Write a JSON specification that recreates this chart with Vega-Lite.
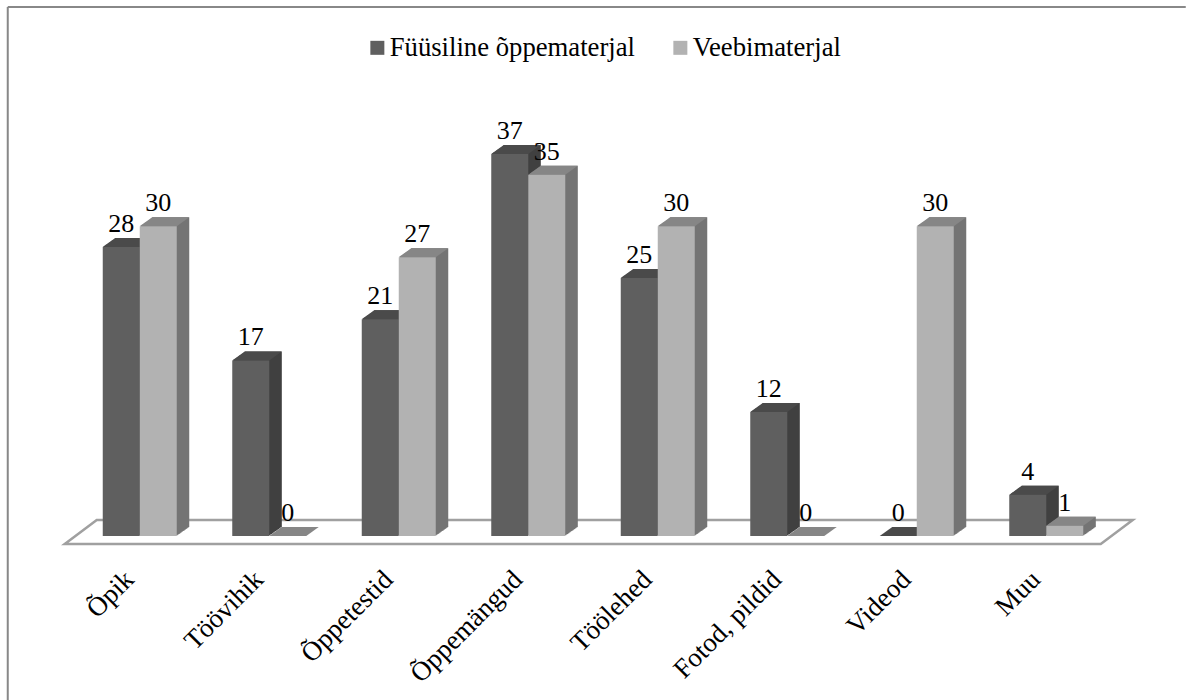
{"$schema":"https://vega.github.io/schema/vega-lite/v6.json","width":1036,"height":413,"autosize":{"type":"none"},"padding":{"left":75,"top":123,"right":75,"bottom":164},"background":"white","config":{"view":{"stroke":null}},"data":{"values":[{"kategooria":"Õpik","seeria":"Füüsiline õppematerjal","väärtus":28},{"kategooria":"Õpik","seeria":"Veebimaterjal","väärtus":30},{"kategooria":"Töövihik","seeria":"Füüsiline õppematerjal","väärtus":17},{"kategooria":"Töövihik","seeria":"Veebimaterjal","väärtus":0},{"kategooria":"Õppetestid","seeria":"Füüsiline õppematerjal","väärtus":21},{"kategooria":"Õppetestid","seeria":"Veebimaterjal","väärtus":27},{"kategooria":"Õppemängud","seeria":"Füüsiline õppematerjal","väärtus":37},{"kategooria":"Õppemängud","seeria":"Veebimaterjal","väärtus":35},{"kategooria":"Töölehed","seeria":"Füüsiline õppematerjal","väärtus":25},{"kategooria":"Töölehed","seeria":"Veebimaterjal","väärtus":30},{"kategooria":"Fotod, pildid","seeria":"Füüsiline õppematerjal","väärtus":12},{"kategooria":"Fotod, pildid","seeria":"Veebimaterjal","väärtus":0},{"kategooria":"Videod","seeria":"Füüsiline õppematerjal","väärtus":0},{"kategooria":"Videod","seeria":"Veebimaterjal","väärtus":30},{"kategooria":"Muu","seeria":"Füüsiline õppematerjal","väärtus":4},{"kategooria":"Muu","seeria":"Veebimaterjal","väärtus":1}]},
"encoding":{"y":{"field":"väärtus","type":"quantitative","title":null,"scale":{"domain":[0,40]},"axis":null}},
"layer":[
{"data":{"values":[{"kategooria":"Õpik","väärtus":0}]},"mark":{"type":"point","shape":"M-132,-529L1046,-529M-132,-529L-132,164","size":4,"filled":false,"stroke":"#888888","strokeWidth":2,"opacity":1},"encoding":{"x":{"field":"kategooria","type":"nominal","title":null,"scale":{"type":"band","domain":["Õpik","Töövihik","Õppetestid","Õppemängud","Töölehed","Fotod, pildid","Videod","Muu"],"paddingInner":0.4286,"paddingOuter":0.2143},"axis":{"labelAngle":-45,"labelAlign":"right","labelBaseline":"middle","labelFont":"Liberation Serif","labelFontSize":27,"labelColor":"#000","labelPadding":39,"labelOffset":-10,"domain":false,"ticks":false,"labelOverlap":false}}}},
{"data":{"values":[{"kategooria":"Õpik","väärtus":0}]},"mark":{"type":"point","shape":"M-43,-16L993,-16L961,8L-75,8Z","size":4,"filled":false,"stroke":"#a0a0a0","strokeWidth":2.5,"opacity":1},"encoding":{"x":{"field":"kategooria","type":"nominal"}}},
{"transform":[{"filter":"datum.seeria==='Füüsiline õppematerjal'"}],"encoding":{"x":{"field":"kategooria","type":"nominal"}},"layer":[
{"mark":{"type":"bar","width":37,"color":"#404040","xOffset":-17.5,"yOffset":-0.7,"y2Offset":-0.7}},
{"mark":{"type":"bar","width":37,"color":"#404040","xOffset":-16.5,"yOffset":-1.4,"y2Offset":-1.4}},
{"mark":{"type":"bar","width":37,"color":"#404040","xOffset":-15.5,"yOffset":-2.1,"y2Offset":-2.1}},
{"mark":{"type":"bar","width":37,"color":"#404040","xOffset":-14.5,"yOffset":-2.8,"y2Offset":-2.8}},
{"mark":{"type":"bar","width":37,"color":"#404040","xOffset":-13.5,"yOffset":-3.5,"y2Offset":-3.5}},
{"mark":{"type":"bar","width":37,"color":"#404040","xOffset":-12.5,"yOffset":-4.2,"y2Offset":-4.2}},
{"mark":{"type":"bar","width":37,"color":"#404040","xOffset":-11.5,"yOffset":-4.9,"y2Offset":-4.9}},
{"mark":{"type":"bar","width":37,"color":"#404040","xOffset":-10.5,"yOffset":-5.6,"y2Offset":-5.6}},
{"mark":{"type":"bar","width":37,"color":"#404040","xOffset":-9.5,"yOffset":-6.3,"y2Offset":-6.3}},
{"mark":{"type":"bar","width":37,"color":"#404040","xOffset":-8.5,"yOffset":-7,"y2Offset":-7}},
{"mark":{"type":"bar","width":37,"color":"#404040","xOffset":-7.5,"yOffset":-7.7,"y2Offset":-7.7}},
{"mark":{"type":"bar","width":37,"color":"#404040","xOffset":-6.5,"yOffset":-8.4,"y2Offset":-8.4}},
{"mark":{"type":"bar","width":37,"color":"#404040","xOffset":-6,"yOffset":-9,"y2Offset":-9}}]},
{"transform":[{"filter":"datum.seeria==='Veebimaterjal'"}],"encoding":{"x":{"field":"kategooria","type":"nominal"}},"layer":[
{"mark":{"type":"bar","width":37,"color":"#747474","xOffset":19.5,"yOffset":-0.7,"y2Offset":-0.7}},
{"mark":{"type":"bar","width":37,"color":"#747474","xOffset":20.5,"yOffset":-1.4,"y2Offset":-1.4}},
{"mark":{"type":"bar","width":37,"color":"#747474","xOffset":21.5,"yOffset":-2.1,"y2Offset":-2.1}},
{"mark":{"type":"bar","width":37,"color":"#747474","xOffset":22.5,"yOffset":-2.8,"y2Offset":-2.8}},
{"mark":{"type":"bar","width":37,"color":"#747474","xOffset":23.5,"yOffset":-3.5,"y2Offset":-3.5}},
{"mark":{"type":"bar","width":37,"color":"#747474","xOffset":24.5,"yOffset":-4.2,"y2Offset":-4.2}},
{"mark":{"type":"bar","width":37,"color":"#747474","xOffset":25.5,"yOffset":-4.9,"y2Offset":-4.9}},
{"mark":{"type":"bar","width":37,"color":"#747474","xOffset":26.5,"yOffset":-5.6,"y2Offset":-5.6}},
{"mark":{"type":"bar","width":37,"color":"#747474","xOffset":27.5,"yOffset":-6.3,"y2Offset":-6.3}},
{"mark":{"type":"bar","width":37,"color":"#747474","xOffset":28.5,"yOffset":-7,"y2Offset":-7}},
{"mark":{"type":"bar","width":37,"color":"#747474","xOffset":29.5,"yOffset":-7.7,"y2Offset":-7.7}},
{"mark":{"type":"bar","width":37,"color":"#747474","xOffset":30.5,"yOffset":-8.4,"y2Offset":-8.4}},
{"mark":{"type":"bar","width":37,"color":"#747474","xOffset":31,"yOffset":-9,"y2Offset":-9}}]},
{"transform":[{"filter":"datum.seeria==='Füüsiline õppematerjal'"}],"mark":{"type":"point","shape":"M-18.5,0L18.5,0L31,-9L-6,-9Z","size":4,"filled":true,"opacity":1,"strokeWidth":0,"color":"#4a4a4a"},"encoding":{"x":{"field":"kategooria","type":"nominal","bandPosition":0.25}}},
{"transform":[{"filter":"datum.seeria==='Veebimaterjal'"}],"mark":{"type":"point","shape":"M-18.5,0L18.5,0L31,-9L-6,-9Z","size":4,"filled":true,"opacity":1,"strokeWidth":0,"color":"#868686"},"encoding":{"x":{"field":"kategooria","type":"nominal","bandPosition":0.75}}},
{"transform":[{"filter":"datum.seeria==='Füüsiline õppematerjal'"}],"mark":{"type":"bar","width":37,"xOffset":-18.5},"encoding":{"x":{"field":"kategooria","type":"nominal"},"color":{"field":"seeria","type":"nominal","scale":{"domain":["Füüsiline õppematerjal","Veebimaterjal"],"range":["#5f5f5f","#b2b2b2"]},"legend":{"title":null,"orient":"none","legendX":289,"legendY":-89,"direction":"horizontal","symbolType":"square","symbolSize":196,"symbolStrokeWidth":0,"labelFont":"Liberation Serif","labelFontSize":26.7,"labelColor":"#000","labelLimit":400,"columnPadding":31,"labelOffset":-1}}}},
{"transform":[{"filter":"datum.seeria==='Veebimaterjal'"}],"mark":{"type":"bar","width":37,"xOffset":18.5},"encoding":{"x":{"field":"kategooria","type":"nominal"},"color":{"field":"seeria","type":"nominal"}}},
{"transform":[{"filter":"datum.seeria==='Füüsiline õppematerjal'"}],"mark":{"type":"text","font":"Liberation Serif","fontSize":26,"color":"#000","dy":-15,"baseline":"alphabetic","align":"center"},"encoding":{"x":{"field":"kategooria","type":"nominal","bandPosition":0.25},"text":{"field":"väärtus","type":"quantitative"}}},
{"transform":[{"filter":"datum.seeria==='Veebimaterjal'"}],"mark":{"type":"text","font":"Liberation Serif","fontSize":26,"color":"#000","dy":-15,"baseline":"alphabetic","align":"center"},"encoding":{"x":{"field":"kategooria","type":"nominal","bandPosition":0.75},"text":{"field":"väärtus","type":"quantitative"}}}
]}
